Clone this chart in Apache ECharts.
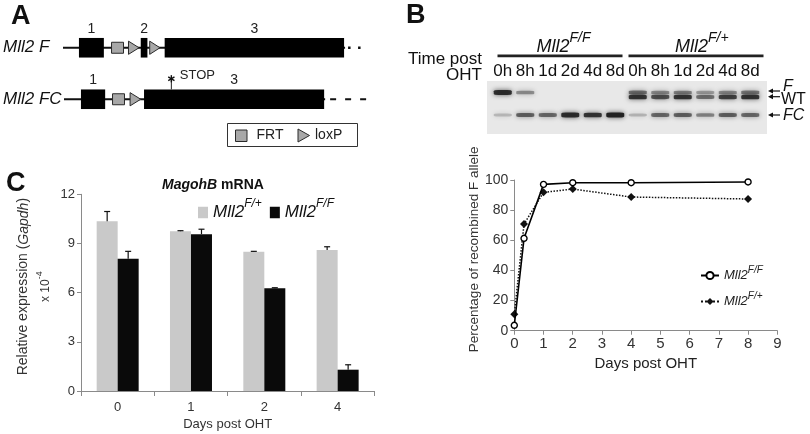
<!DOCTYPE html>
<html><head><meta charset="utf-8">
<script src="https://cdn.jsdelivr.net/npm/echarts@6/dist/echarts.min.js"></script>
<style>html,body{margin:0;padding:0;background:#fff}#c{width:810px;height:434px}</style>
</head><body><div id="c"></div>
<script>
// ---------- Panel A: gene schematic (units along the locus) ----------
const aRows = ['Mll2 F', 'Mll2 FC'];
// [row, start, end, kind, label]
const aFeatures = [
  [0, 0, 283, 'line', ''],
  [0, 286, 306, 'dots', ''],
  [0, 16, 41, 'exon', '1'],
  [0, 48.7, 60.7, 'frt', ''],
  [0, 65.7, 76.3, 'loxp', ''],
  [0, 78, 84.7, 'exon', '2'],
  [0, 87, 97.3, 'loxp', ''],
  [0, 102, 282, 'exon', '3'],
  [1, 1, 263, 'line', ''],
  [1, 268, 306, 'dashes', ''],
  [1, 18, 42.3, 'exon', '1'],
  [1, 49.7, 61.7, 'frt', ''],
  [1, 67.3, 78, 'loxp', ''],
  [1, 81.3, 262, 'exon', '3'],
  [1, 108.7, 108.7, 'stop', 'STOP']
];

// ---------- Panel B: gel ----------
const gelLanes = ['0h','8h','1d','2d','4d','8d','0h','8h','1d','2d','4d','8d'];
const gelF  = [0.9, 0.3, 0, 0, 0, 0,   0.45, 0.3, 0.35, 0.2, 0.3, 0.4];
const gelWT = [0, 0, 0, 0, 0, 0,       0.85, 0.65, 0.85, 0.45, 0.75, 0.85];
const gelFC = [0.06, 0.55, 0.5, 0.9, 0.85, 1.0,  0.08, 0.5, 0.55, 0.35, 0.55, 0.5];
const bandMigration = {F: 11.5, WT: 16, FC: 34};

// ---------- Panel B: recombination curve ----------
const bNames = ['Mll2 F/F curve', 'Mll2 F/+ curve'];
const bDays = [0, 0.333, 1, 2, 4, 8];
const bFF = [3.6, 61.3, 97.1, 98.2, 98.2, 98.7];
const bFplus = [10.9, 70.8, 91.8, 94.0, 88.7, 87.4];
const bXTicks = [0,1,2,3,4,5,6,7,8,9];
const bYTicks = [0,20,40,60,80,100];

// ---------- Panel C: MagohB qPCR ----------
const cTitle = ['MagohB', ' mRNA'];
const cNames = ['Mll2 F/+ bar', 'Mll2 F/F bar'];
const cDays = ['0', '1', '2', '4'];
const cFplus = [10.35, 9.75, 8.5, 8.6];
const cFplusErr = [0.6, 0.03, 0.02, 0.2];
const cFF = [8.07, 9.57, 6.27, 1.3];
const cFFErr = [0.45, 0.3, 0.03, 0.3];
const cYTicks = [0, 3, 6, 9, 12];

const FONT = '"Liberation Sans", Arial, Helvetica, sans-serif';
const chart = echarts.init(document.getElementById('c'), null, {renderer: 'canvas', width: 810, height: 434});

function supFormatter(name) {
  const p = name.split(' ');
  return '{m|' + p[0] + '}{s|' + p[1] + '}';
}

// gel band data
const gelData = [];
gelLanes.forEach((l, i) => {
  [['F', gelF], ['WT', gelWT], ['FC', gelFC]].forEach(([b, arr]) => {
    if (arr[i] > 0) gelData.push({value: [i, bandMigration[b], arr[i]], itemStyle: {opacity: Math.min(1, 0.15 + 0.8 * arr[i])}});
  });
});

// error bars
const errData = [];
cDays.forEach((d, i) => {
  errData.push([i, cFplus[i], cFplusErr[i], -1]);
  errData.push([i, cFF[i], cFFErr[i], 1]);
});

const GREYFILL = '#a8a8a8', DARK = '#2a2a2a';

function renderA(params, api) {
  const f = aFeatures[params.dataIndex];
  const row = f[0], kind = f[3], lab = f[4];
  const p1 = api.coord([f[1], row]);
  const p2 = api.coord([f[2], row]);
  const y = p1[1];
  const x1 = p1[0], x2 = p2[0];
  switch (kind) {
    case 'line':
      return {type: 'line', shape: {x1, y1: y, x2, y2: y}, style: {stroke: '#111', lineWidth: 2}};
    case 'dots':
      return {type: 'line', shape: {x1, y1: y, x2, y2: y}, style: {stroke: '#111', lineWidth: 2.5, lineDash: [2.5, 7.5]}};
    case 'dashes':
      return {type: 'line', shape: {x1, y1: y, x2, y2: y}, style: {stroke: '#111', lineWidth: 2, lineDash: [6, 9]}};
    case 'exon':
      return {type: 'rect', shape: {x: x1, y: y - 9.8, width: x2 - x1, height: 19.6}, style: {fill: '#000'},
        textContent: {style: {text: lab, fontSize: 14, fill: '#222', fontFamily: FONT}},
        textConfig: {position: 'top', distance: 2}};
    case 'frt':
      return {type: 'rect', shape: {x: x1, y: y - 5.5, width: x2 - x1, height: 11}, style: {fill: GREYFILL, stroke: DARK, lineWidth: 1}};
    case 'loxp':
      return {type: 'polygon', shape: {points: [[x1, y - 6.6], [x2, y], [x1, y + 6.6]]}, style: {fill: GREYFILL, stroke: DARK, lineWidth: 1}};
    case 'stop': {
      const cy = y - 20.5, r = 3.6;
      const kids = [{type: 'line', shape: {x1, y1: y - 9.8, x2: x1, y2: cy}, style: {stroke: '#222', lineWidth: 1}}];
      [90, 30, 150].forEach(a => {
        const rad = a * Math.PI / 180;
        kids.push({type: 'line', shape: {x1: x1 - r * Math.cos(rad), y1: cy - r * Math.sin(rad), x2: x1 + r * Math.cos(rad), y2: cy + r * Math.sin(rad)}, style: {stroke: '#111', lineWidth: 1.4}});
      });
      kids.push({type: 'text', style: {text: lab, x: x1 + 8.5, y: cy - 3.5, fontSize: 13, fill: '#222', fontFamily: FONT, align: 'left', verticalAlign: 'middle', textAlign: 'left', textVerticalAlign: 'middle'}});
      return {type: 'group', children: kids};
    }
  }
}

function renderErr(params, api) {
  const ci = api.value(0), v = api.value(1), e = api.value(2), side = api.value(3);
  const base = api.coord([ci, v]);
  const top = api.coord([ci, v + e]);
  const x = base[0] + side * 10.5;
  return {type: 'group', children: [
    {type: 'line', shape: {x1: x, y1: base[1], x2: x, y2: top[1]}, style: {stroke: '#111', lineWidth: 1.2}},
    {type: 'line', shape: {x1: x - 3, y1: top[1], x2: x + 3, y2: top[1]}, style: {stroke: '#111', lineWidth: 1.2}}
  ]};
}

function txt(text, x, y, size, opts) {
  opts = opts || {};
  return {type: 'text', z: 10, style: Object.assign({
    text, x, y, fontSize: size, fontFamily: FONT, fill: opts.fill || '#111',
    fontWeight: opts.weight || 'normal', fontStyle: opts.style || 'normal',
    align: opts.align || 'left', textAlign: opts.align || 'left',
    verticalAlign: 'middle', textVerticalAlign: 'middle'
  }, opts.extra || {})};
}

function arrow(xTip, xEnd, y) {
  return [
    {type: 'line', z: 10, shape: {x1: xTip + 3, y1: y, x2: xEnd, y2: y}, style: {stroke: '#111', lineWidth: 1.2}},
    {type: 'polygon', z: 10, shape: {points: [[xTip, y], [xTip + 5, y - 2.6], [xTip + 5, y + 2.6]]}, style: {fill: '#111'}}
  ];
}

const supRichBig = {
  m: {fontSize: 18, fontStyle: 'italic', fontFamily: FONT, lineHeight: 30, fill: '#111', color: '#111'},
  s: {fontSize: 14, fontStyle: 'italic', fontFamily: FONT, lineHeight: 14, verticalAlign: 'top', fill: '#111', color: '#111'}
};

const graphics = [
  txt('A', 11, 17, 27, {weight: 'bold'}),
  txt('B', 406, 16, 27, {weight: 'bold'}),
  txt('C', 6, 184, 27, {weight: 'bold'}),
  // C title
  {type: 'text', z: 10, style: {text: '{i|' + cTitle[0] + '}{n|' + cTitle[1] + '}', x: 162, y: 185,
    align: 'left', textAlign: 'left', verticalAlign: 'middle', textVerticalAlign: 'middle',
    rich: {
      i: {fontSize: 14, fontWeight: 'bold', fontStyle: 'italic', fontFamily: FONT, fill: '#111', color: '#111'},
      n: {fontSize: 14, fontWeight: 'bold', fontFamily: FONT, fill: '#111', color: '#111'}
    }}},
  // A key
  {type: 'rect', z: 10, shape: {x: 227.5, y: 123.5, width: 130, height: 23}, style: {fill: '#fff', stroke: '#333', lineWidth: 1}},
  {type: 'rect', z: 11, shape: {x: 235.5, y: 130, width: 11.5, height: 11.5}, style: {fill: GREYFILL, stroke: DARK, lineWidth: 1}},
  txt('FRT', 256.5, 135.5, 14, {fill: '#222'}),
  {type: 'polygon', z: 11, shape: {points: [[298, 129], [309.5, 135.5], [298, 142]]}, style: {fill: GREYFILL, stroke: DARK, lineWidth: 1}},
  txt('loxP', 315, 135.5, 14, {fill: '#222'}),
  // B header
  txt('Time post', 482, 59, 17, {align: 'right'}),
  txt('OHT', 482, 75, 17, {align: 'right'}),
  {type: 'text', z: 10, style: {text: '{m|Mll2}{s|F/F}', rich: supRichBig, x: 536.5, y: 46.5, align: 'left', textAlign: 'left', verticalAlign: 'middle', textVerticalAlign: 'middle'}},
  {type: 'text', z: 10, style: {text: '{m|Mll2}{s|F/+}', rich: supRichBig, x: 675, y: 46.5, align: 'left', textAlign: 'left', verticalAlign: 'middle', textVerticalAlign: 'middle'}},
  {type: 'rect', z: 10, shape: {x: 497.5, y: 54.5, width: 125, height: 2.8}, style: {fill: '#222'}},
  {type: 'rect', z: 10, shape: {x: 628.5, y: 54.5, width: 135, height: 2.8}, style: {fill: '#222'}},
  // gel background
  {type: 'rect', z: 0, shape: {x: 487, y: 81, width: 280, height: 53}, style: {fill: '#e8e8e8'}},
  ...arrow(768, 780, 91),
  ...arrow(768, 780, 96.7),
  ...arrow(768, 780, 115),
  txt('F', 783, 87, 16, {style: 'italic'}),
  txt('WT', 781, 100, 16),
  txt('FC', 783, 115.5, 16, {style: 'italic'})
];

const axisGrey = '#8a8a8a';
const option = {
  animation: false,
  backgroundColor: '#fff',
  textStyle: {fontFamily: FONT},
  grid: [
    {left: 62, top: 22, width: 306, height: 103},
    {left: 81, top: 194.3, width: 293.3, height: 196.7},
    {left: 514.3, top: 180, width: 263, height: 150.7},
    {left: 491.5, top: 81, width: 270, height: 53}
  ],
  xAxis: [
    {gridIndex: 0, type: 'value', min: 0, max: 306, show: false},
    {gridIndex: 1, type: 'category', data: cDays,
      axisLine: {lineStyle: {color: axisGrey, width: 1}},
      axisTick: {show: true, length: 5, lineStyle: {color: axisGrey}},
      axisLabel: {fontSize: 13, color: '#333', margin: 10, fontFamily: FONT},
      name: 'Days post OHT', nameLocation: 'middle', nameGap: 27,
      nameTextStyle: {fontSize: 13, color: '#333', fontFamily: FONT}},
    {gridIndex: 2, type: 'value', min: 0, max: 9, interval: 1,
      axisLine: {show: true, lineStyle: {color: axisGrey, width: 1}},
      axisTick: {show: true, length: 4, lineStyle: {color: axisGrey}},
      axisLabel: {fontSize: 15, color: '#333', margin: 6, fontFamily: FONT, formatter: v => bXTicks.indexOf(v) >= 0 ? String(v) : ''},
      splitLine: {show: false},
      name: 'Days post OHT', nameLocation: 'middle', nameGap: 26,
      nameTextStyle: {fontSize: 15, color: '#222', fontFamily: FONT}},
    {gridIndex: 3, type: 'category', data: gelLanes, position: 'top',
      axisLine: {show: false}, axisTick: {show: false},
      axisLabel: {fontSize: 17, color: '#111', margin: 1, interval: 0, fontFamily: FONT}}
  ],
  yAxis: [
    {gridIndex: 0, type: 'category', data: aRows, inverse: true,
      axisLine: {show: false}, axisTick: {show: false},
      axisLabel: {fontSize: 17, fontStyle: 'italic', color: '#111', align: 'left', margin: 60, fontFamily: FONT}},
    {gridIndex: 1, type: 'value', min: 0, max: 12, interval: 3,
      axisLine: {show: true, lineStyle: {color: axisGrey, width: 1}},
      axisTick: {show: true, length: 4, lineStyle: {color: axisGrey}},
      axisLabel: {fontSize: 13, color: '#333', margin: 6, fontFamily: FONT, formatter: v => cYTicks.indexOf(v) >= 0 ? String(v) : ''},
      splitLine: {show: false},
      name: 'Relative expression ({i|Gapdh})\n{x|x 10}{s|-4}', nameLocation: 'middle', nameGap: 15, nameRotate: 90,
      nameTextStyle: {fontSize: 14, color: '#333', lineHeight: 22, fontFamily: FONT, padding: [0, 0, 0, 12],
        rich: {
          i: {fontSize: 14, fontStyle: 'italic', color: '#333', fontFamily: FONT, lineHeight: 22},
          x: {fontSize: 12, color: '#333', fontFamily: FONT, lineHeight: 22},
          s: {fontSize: 9, color: '#333', fontFamily: FONT, lineHeight: 9, verticalAlign: 'top'}
        }}},
    {gridIndex: 2, type: 'value', min: 0, max: 100, interval: 20,
      axisLine: {show: true, lineStyle: {color: axisGrey, width: 1}},
      axisTick: {show: true, length: 4, lineStyle: {color: axisGrey}},
      axisLabel: {fontSize: 14, color: '#333', margin: 6, fontFamily: FONT, formatter: v => bYTicks.indexOf(v) >= 0 ? String(v) : ''},
      splitLine: {show: false},
      name: 'Percentage of recombined F allele', nameLocation: 'middle', nameGap: 32, nameRotate: 90,
      nameTextStyle: {fontSize: 13.5, color: '#333', fontFamily: FONT, padding: [0, 0, 0, 12]}},
    {gridIndex: 3, type: 'value', min: 0, max: 53, inverse: true, show: false}
  ],
  legend: [
    {data: cNames, left: 198, top: 197.5, orient: 'horizontal', icon: 'rect', itemWidth: 10, itemHeight: 11.5, itemGap: 8,
      padding: 0, selectedMode: false, formatter: supFormatter,
      textStyle: {fontFamily: FONT, rich: {
        m: {fontSize: 17, fontStyle: 'italic', fontFamily: FONT, lineHeight: 30, color: '#111'},
        s: {fontSize: 12, fontStyle: 'italic', fontFamily: FONT, lineHeight: 12, verticalAlign: 'top', color: '#111'}}}},
    {data: bNames, left: 700, top: 265.5, orient: 'vertical', itemWidth: 18, itemHeight: 9, itemGap: 9.5,
      padding: 0, selectedMode: false, formatter: supFormatter,
      textStyle: {fontFamily: FONT, rich: {
        m: {fontSize: 13, fontStyle: 'italic', fontFamily: FONT, lineHeight: 20, color: '#222'},
        s: {fontSize: 10, fontStyle: 'italic', fontFamily: FONT, lineHeight: 10, verticalAlign: 'top', color: '#222'}}}}
  ],
  series: [
    {type: 'custom', name: 'schematic', xAxisIndex: 0, yAxisIndex: 0, renderItem: renderA, clip: false,
      data: aFeatures.map(f => [f[1], f[0], f[2]]), encode: {x: [0, 2], y: 1}, silent: true},
    {type: 'bar', name: cNames[0], xAxisIndex: 1, yAxisIndex: 1, data: cFplus, barWidth: 21, barGap: '0%', itemStyle: {color: '#c9c9c9'}},
    {type: 'bar', name: cNames[1], xAxisIndex: 1, yAxisIndex: 1, data: cFF, barWidth: 21, barGap: '0%', itemStyle: {color: '#0a0a0a'}},
    {type: 'custom', name: 'err', xAxisIndex: 1, yAxisIndex: 1, renderItem: renderErr, data: errData, z: 5, silent: true},
    {type: 'line', name: bNames[1], xAxisIndex: 2, yAxisIndex: 2, data: bDays.map((d, i) => [d, bFplus[i]]),
      symbol: 'diamond', symbolSize: 8, z: 3,
      lineStyle: {color: '#111', width: 1.5, type: 'dotted'}, itemStyle: {color: '#111', borderColor: '#111', borderWidth: 0}},
    {type: 'line', name: bNames[0], xAxisIndex: 2, yAxisIndex: 2, data: bDays.map((d, i) => [d, bFF[i]]),
      symbol: 'circle', symbolSize: 6, z: 4, showAllSymbol: true,
      lineStyle: {color: '#000', width: 1.6}, itemStyle: {color: '#fff', borderColor: '#000', borderWidth: 1.4}},
    {type: 'scatter', name: 'bands', xAxisIndex: 3, yAxisIndex: 3, data: gelData, symbol: 'roundRect', z: 3,
      symbolSize: v => [18, 3 + 2 * v[2]],
      itemStyle: {color: '#1a1a1a', shadowBlur: 5, shadowColor: 'rgba(0,0,0,0.7)'}, silent: true}
  ],
  graphic: {elements: graphics}
};
chart.setOption(option);
</script>
</body></html>
